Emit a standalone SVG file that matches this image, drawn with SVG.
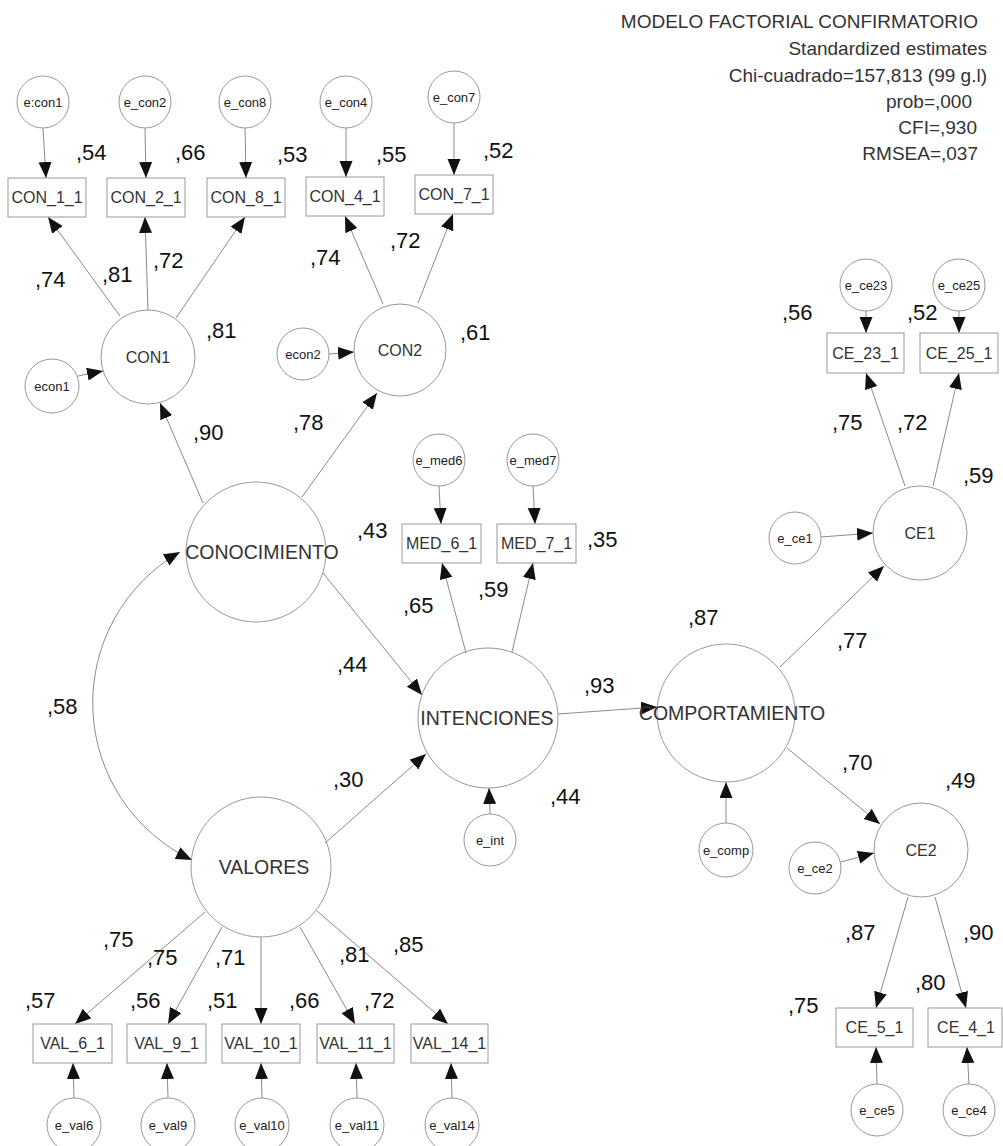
<svg xmlns="http://www.w3.org/2000/svg" width="1003" height="1146" viewBox="0 0 1003 1146">
<defs>
<marker id="ah" markerUnits="userSpaceOnUse" markerWidth="17" markerHeight="14" refX="16" refY="6.5" orient="auto-start-reverse">
<path d="M0,0 L16,6.5 L0,13 z" fill="#111"/>
</marker>
<style>
.c{fill:none;stroke:#999;stroke-width:1}
.b{fill:none;stroke:#999;stroke-width:1}
.l{stroke:#8a8a8a;stroke-width:1;fill:none;marker-end:url(#ah)}
.te{font-family:"Liberation Sans",Arial,sans-serif;font-size:13px;fill:#222;text-anchor:middle}
.tb{font-family:"Liberation Sans",Arial,sans-serif;font-size:16px;fill:#333;text-anchor:middle}
.tl{font-family:"Liberation Sans",Arial,sans-serif;font-size:16px;fill:#333;text-anchor:middle}
.tL{font-family:"Liberation Sans",Arial,sans-serif;font-size:19.5px;fill:#333;text-anchor:middle}
.n{font-family:"Liberation Sans",Arial,sans-serif;font-size:22px;fill:#111}
.h{font-family:"Liberation Sans",Arial,sans-serif;font-size:19px;fill:#333;text-anchor:end}
</style>
</defs>
<rect width="1003" height="1146" fill="#fff"/>

<g id="title">
<text class="h" x="978" y="28">MODELO FACTORIAL CONFIRMATORIO</text>
<text class="h" x="987" y="55">Standardized estimates</text>
<text class="h" x="987" y="82">Chi-cuadrado=157,813 (99 g.l)</text>
<text class="h" x="972" y="108">prob=,000</text>
<text class="h" x="977" y="134">CFI=,930</text>
<text class="h" x="978" y="160">RMSEA=,037</text>
</g>

<g id="connectors">
<line class="l" x1="43" y1="128" x2="46" y2="178"/>
<line class="l" x1="145" y1="128" x2="146" y2="178"/>
<line class="l" x1="245" y1="128" x2="246" y2="178"/>
<line class="l" x1="346" y1="128" x2="346" y2="177"/>
<line class="l" x1="454" y1="123" x2="454" y2="175"/>
<line class="l" x1="120" y1="316" x2="48" y2="217"/>
<line class="l" x1="148" y1="310" x2="145" y2="217"/>
<line class="l" x1="176" y1="318" x2="245" y2="217"/>
<line class="l" x1="78" y1="376" x2="103" y2="371"/>
<line class="l" x1="383" y1="304" x2="345" y2="216"/>
<line class="l" x1="418" y1="303" x2="453" y2="214"/>
<line class="l" x1="329" y1="354" x2="354" y2="352"/>
<line class="l" x1="203" y1="503" x2="160" y2="403"/>
<line class="l" x1="302" y1="497" x2="377" y2="393"/>
<line class="l" x1="323" y1="573" x2="422" y2="695"/>
<line class="l" x1="325" y1="843" x2="426" y2="754"/>
<line class="l" x1="466" y1="653" x2="442" y2="563"/>
<line class="l" x1="512" y1="652" x2="533" y2="563"/>
<line class="l" x1="439" y1="486" x2="441" y2="524"/>
<line class="l" x1="533" y1="486" x2="535" y2="524"/>
<line class="l" x1="490" y1="814" x2="489" y2="788"/>
<line class="l" x1="558" y1="714" x2="657" y2="707"/>
<line class="l" x1="726" y1="823" x2="726" y2="782"/>
<line class="l" x1="780" y1="667" x2="884" y2="566"/>
<line class="l" x1="787" y1="748" x2="880" y2="824"/>
<line class="l" x1="821" y1="537" x2="873" y2="533"/>
<line class="l" x1="866" y1="311" x2="866" y2="333"/>
<line class="l" x1="959" y1="311" x2="959" y2="333"/>
<line class="l" x1="905" y1="486" x2="866" y2="373"/>
<line class="l" x1="933" y1="486" x2="959" y2="373"/>
<line class="l" x1="841" y1="862" x2="874" y2="853"/>
<line class="l" x1="908" y1="897" x2="876" y2="1008"/>
<line class="l" x1="935" y1="897" x2="966" y2="1008"/>
<line class="l" x1="877" y1="1084" x2="876" y2="1047"/>
<line class="l" x1="969" y1="1084" x2="967" y2="1047"/>
<line class="l" x1="205" y1="912" x2="75" y2="1024"/>
<line class="l" x1="222" y1="927" x2="168" y2="1024"/>
<line class="l" x1="261" y1="937" x2="261" y2="1024"/>
<line class="l" x1="300" y1="927" x2="355" y2="1024"/>
<line class="l" x1="317" y1="911" x2="448" y2="1024"/>
<line class="l" x1="74" y1="1098" x2="73" y2="1063"/>
<line class="l" x1="168" y1="1098" x2="167" y2="1063"/>
<line class="l" x1="262" y1="1098" x2="261" y2="1063"/>
<line class="l" x1="357" y1="1098" x2="356" y2="1063"/>
<line class="l" x1="452" y1="1098" x2="451" y2="1063"/>
<path class="l" d="M180,552 A174,174 0 0,0 192,860" style="marker-start:url(#ah)"/>
</g>

<g id="n-econ1_e"><circle class="c" cx="43" cy="102" r="26"/><text class="te" x="43" y="106.5">e:con1</text></g>
<g id="n-e_con2"><circle class="c" cx="145" cy="102" r="26"/><text class="te" x="145" y="106.5">e_con2</text></g>
<g id="n-e_con8"><circle class="c" cx="245" cy="102" r="26"/><text class="te" x="245" y="106.5">e_con8</text></g>
<g id="n-e_con4"><circle class="c" cx="346" cy="102" r="26"/><text class="te" x="346" y="106.5">e_con4</text></g>
<g id="n-e_con7"><circle class="c" cx="454" cy="97" r="26"/><text class="te" x="454" y="101.5">e_con7</text></g>
<g id="n-econ1"><circle class="c" cx="52" cy="386" r="27"/><text class="te" x="52" y="390.5">econ1</text></g>
<g id="n-econ2"><circle class="c" cx="303" cy="354" r="26"/><text class="te" x="303" y="358.5">econ2</text></g>
<g id="n-e_med6"><circle class="c" cx="439" cy="460" r="26"/><text class="te" x="439" y="464.5">e_med6</text></g>
<g id="n-e_med7"><circle class="c" cx="533" cy="460" r="26"/><text class="te" x="533" y="464.5">e_med7</text></g>
<g id="n-e_int"><circle class="c" cx="490" cy="840" r="26"/><text class="te" x="490" y="844.5">e_int</text></g>
<g id="n-e_comp"><circle class="c" cx="726" cy="850" r="27"/><text class="te" x="726" y="854.5">e_comp</text></g>
<g id="n-e_ce23"><circle class="c" cx="866" cy="285" r="26"/><text class="te" x="866" y="289.5">e_ce23</text></g>
<g id="n-e_ce25"><circle class="c" cx="959" cy="285" r="26"/><text class="te" x="959" y="289.5">e_ce25</text></g>
<g id="n-e_ce1"><circle class="c" cx="795" cy="538" r="26"/><text class="te" x="795" y="542.5">e_ce1</text></g>
<g id="n-e_ce2"><circle class="c" cx="815" cy="868" r="26"/><text class="te" x="815" y="872.5">e_ce2</text></g>
<g id="n-e_ce5"><circle class="c" cx="877" cy="1110" r="26"/><text class="te" x="877" y="1114.5">e_ce5</text></g>
<g id="n-e_ce4"><circle class="c" cx="969" cy="1110" r="26"/><text class="te" x="969" y="1114.5">e_ce4</text></g>
<g id="n-e_val6"><circle class="c" cx="74" cy="1125" r="27"/><text class="te" x="74" y="1129.5">e_val6</text></g>
<g id="n-e_val9"><circle class="c" cx="168" cy="1125" r="27"/><text class="te" x="168" y="1129.5">e_val9</text></g>
<g id="n-e_val10"><circle class="c" cx="262" cy="1125" r="27"/><text class="te" x="262" y="1129.5">e_val10</text></g>
<g id="n-e_val11"><circle class="c" cx="357" cy="1125" r="27"/><text class="te" x="357" y="1129.5">e_val11</text></g>
<g id="n-e_val14"><circle class="c" cx="452" cy="1125" r="27"/><text class="te" x="452" y="1129.5">e_val14</text></g>

<g id="n-CON_1_1"><rect class="b" x="8" y="178" width="78" height="39"/><text class="tb" x="47" y="203">CON_1_1</text></g>
<g id="n-CON_2_1"><rect class="b" x="107" y="178" width="78" height="39"/><text class="tb" x="146" y="203">CON_2_1</text></g>
<g id="n-CON_8_1"><rect class="b" x="207" y="178" width="78" height="39"/><text class="tb" x="246" y="203">CON_8_1</text></g>
<g id="n-CON_4_1"><rect class="b" x="306" y="177" width="78" height="39"/><text class="tb" x="345" y="202">CON_4_1</text></g>
<g id="n-CON_7_1"><rect class="b" x="415" y="175" width="78" height="39"/><text class="tb" x="454" y="200">CON_7_1</text></g>
<g id="n-MED_6_1"><rect class="b" x="402" y="524" width="79" height="39"/><text class="tb" x="441.5" y="549">MED_6_1</text></g>
<g id="n-MED_7_1"><rect class="b" x="497" y="524" width="79" height="39"/><text class="tb" x="536.5" y="549">MED_7_1</text></g>
<g id="n-CE_23_1"><rect class="b" x="827" y="333" width="77" height="40"/><text class="tb" x="865.5" y="358.5">CE_23_1</text></g>
<g id="n-CE_25_1"><rect class="b" x="920" y="333" width="78" height="40"/><text class="tb" x="959" y="358.5">CE_25_1</text></g>
<g id="n-CE_5_1"><rect class="b" x="836" y="1008" width="77" height="39"/><text class="tb" x="874.5" y="1033">CE_5_1</text></g>
<g id="n-CE_4_1"><rect class="b" x="928" y="1008" width="74" height="39"/><text class="tb" x="966" y="1033">CE_4_1</text></g>
<g id="n-VAL_6_1"><rect class="b" x="33" y="1024" width="79" height="39"/><text class="tb" x="72.5" y="1049">VAL_6_1</text></g>
<g id="n-VAL_9_1"><rect class="b" x="127" y="1024" width="79" height="39"/><text class="tb" x="166.5" y="1049">VAL_9_1</text></g>
<g id="n-VAL_10_1"><rect class="b" x="222" y="1024" width="78" height="39"/><text class="tb" x="261" y="1049">VAL_10_1</text></g>
<g id="n-VAL_11_1"><rect class="b" x="317" y="1024" width="77" height="39"/><text class="tb" x="355.5" y="1049">VAL_11_1</text></g>
<g id="n-VAL_14_1"><rect class="b" x="411" y="1024" width="77" height="39"/><text class="tb" x="449.5" y="1049">VAL_14_1</text></g>

<g id="n-CON1"><circle class="c" cx="148" cy="357" r="47"/><text class="tl" x="148" y="362.5">CON1</text></g>
<g id="n-CON2"><circle class="c" cx="400" cy="350" r="46"/><text class="tl" x="400" y="355.5">CON2</text></g>
<g id="n-CE1"><circle class="c" cx="920" cy="533" r="47"/><text class="tl" x="920" y="538.5">CE1</text></g>
<g id="n-CE2"><circle class="c" cx="921" cy="850" r="47"/><text class="tl" x="921" y="855.5">CE2</text></g>
<g id="n-CONOCIMIENTO"><circle class="c" cx="256" cy="552" r="70"/><text class="tL" x="262" y="559">CONOCIMIENTO</text></g>
<g id="n-INTENCIONES"><circle class="c" cx="488" cy="718" r="70"/><text class="tL" x="487" y="725">INTENCIONES</text></g>
<g id="n-VALORES"><circle class="c" cx="261" cy="867" r="70"/><text class="tL" x="264" y="874">VALORES</text></g>
<g id="n-COMPORTAMIENTO"><circle class="c" cx="726" cy="713" r="69"/><text class="tL" x="732" y="720">COMPORTAMIENTO</text></g>

<g id="estimates">
<text class="n" x="76" y="160">,54</text>
<text class="n" x="175" y="160">,66</text>
<text class="n" x="277" y="162">,53</text>
<text class="n" x="376" y="162">,55</text>
<text class="n" x="483" y="158">,52</text>
<text class="n" x="35" y="287">,74</text>
<text class="n" x="102" y="282">,81</text>
<text class="n" x="153" y="268">,72</text>
<text class="n" x="206" y="338">,81</text>
<text class="n" x="310" y="265">,74</text>
<text class="n" x="390" y="248">,72</text>
<text class="n" x="460" y="340">,61</text>
<text class="n" x="782" y="320">,56</text>
<text class="n" x="907" y="320">,52</text>
<text class="n" x="832" y="430">,75</text>
<text class="n" x="897" y="430">,72</text>
<text class="n" x="963" y="483">,59</text>
<text class="n" x="193" y="440">,90</text>
<text class="n" x="293" y="430">,78</text>
<text class="n" x="357" y="538">,43</text>
<text class="n" x="587" y="547">,35</text>
<text class="n" x="403" y="613">,65</text>
<text class="n" x="478" y="597">,59</text>
<text class="n" x="337" y="672">,44</text>
<text class="n" x="688" y="625">,87</text>
<text class="n" x="584" y="693">,93</text>
<text class="n" x="837" y="648">,77</text>
<text class="n" x="47" y="714">,58</text>
<text class="n" x="333" y="787">,30</text>
<text class="n" x="550" y="804">,44</text>
<text class="n" x="842" y="770">,70</text>
<text class="n" x="945" y="788">,49</text>
<text class="n" x="845" y="940">,87</text>
<text class="n" x="963" y="940">,90</text>
<text class="n" x="915" y="990">,80</text>
<text class="n" x="788" y="1013">,75</text>
<text class="n" x="103" y="947">,75</text>
<text class="n" x="147" y="965">,75</text>
<text class="n" x="215" y="965">,71</text>
<text class="n" x="339" y="962">,81</text>
<text class="n" x="393" y="952">,85</text>
<text class="n" x="25" y="1008">,57</text>
<text class="n" x="130" y="1008">,56</text>
<text class="n" x="207" y="1008">,51</text>
<text class="n" x="289" y="1008">,66</text>
<text class="n" x="364" y="1008">,72</text>
</g>
</svg>
